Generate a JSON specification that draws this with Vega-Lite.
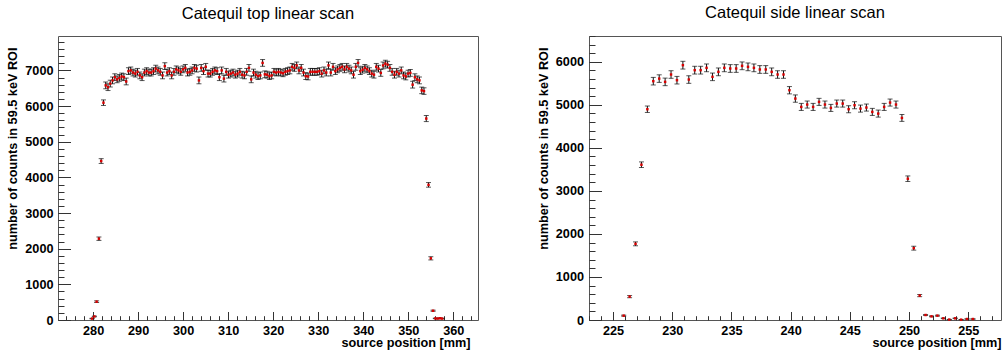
{
"$schema": "https://vega.github.io/schema/vega-lite/v6.json",
"padding": {"left": 6, "top": 4, "right": 2, "bottom": 2},
"background": "white",
"config": {
 "view": {"stroke": "#555", "strokeWidth": 1},
 "font": "Liberation Sans",
 "axis": {"grid": false, "domain": false, "tickColor": "#333", "tickWidth": 1, "labelFont": "Liberation Sans", "labelFontWeight": "bold", "labelFontSize": 12.7, "labelColor": "#000", "titleFont": "Liberation Sans", "titleFontWeight": "bold", "titleFontSize": 12.7, "titleColor": "#000", "labelFlush": false, "labelOverlap": false},
 "title": {"font": "Liberation Sans", "fontSize": 16.5, "fontWeight": "normal", "color": "#000", "offset": 14}
},
"datasets": {
 "top": [
  {"x":279.77,"y":40,"e":7},{"x":280.28,"y":100,"e":10},{"x":280.78,"y":514,"e":23},{"x":281.29,"y":2280,"e":48},{"x":281.79,"y":4458,"e":67},{"x":282.3,"y":6095,"e":78},
  {"x":282.8,"y":6580,"e":95},{"x":283.31,"y":6530,"e":95},{"x":283.81,"y":6630,"e":95},{"x":284.32,"y":6720,"e":95},{"x":284.82,"y":6810,"e":95},{"x":285.33,"y":6750,"e":95},{"x":285.83,"y":6790,"e":95},{"x":286.34,"y":6830,"e":95},{"x":286.84,"y":6810,"e":95},{"x":287.35,"y":6690,"e":95},
  {"x":287.85,"y":6980,"e":95},{"x":288.36,"y":7000,"e":95},{"x":288.86,"y":6940,"e":95},{"x":289.37,"y":6910,"e":95},{"x":289.87,"y":6960,"e":95},{"x":290.38,"y":6860,"e":95},{"x":290.88,"y":6810,"e":95},{"x":291.39,"y":6940,"e":95},{"x":291.89,"y":6980,"e":95},{"x":292.4,"y":6940,"e":95},
  {"x":292.9,"y":6940,"e":95},{"x":293.41,"y":6980,"e":95},{"x":293.91,"y":7050,"e":95},{"x":294.42,"y":7000,"e":95},{"x":294.92,"y":6960,"e":95},{"x":295.43,"y":6860,"e":95},{"x":295.93,"y":7120,"e":95},{"x":296.44,"y":6940,"e":95},{"x":296.94,"y":6980,"e":95},{"x":297.45,"y":6860,"e":95},
  {"x":297.95,"y":6960,"e":95},{"x":298.46,"y":7030,"e":95},{"x":298.96,"y":7000,"e":95},{"x":299.47,"y":6960,"e":95},{"x":299.97,"y":7030,"e":95},{"x":300.48,"y":7070,"e":95},{"x":300.98,"y":6940,"e":95},{"x":301.49,"y":6960,"e":95},{"x":301.99,"y":7000,"e":95},{"x":302.5,"y":7070,"e":95},
  {"x":303.0,"y":7050,"e":95},{"x":303.51,"y":6720,"e":95},{"x":304.01,"y":7070,"e":95},{"x":304.52,"y":6980,"e":95},{"x":305.02,"y":7100,"e":95},{"x":305.53,"y":6910,"e":95},{"x":306.03,"y":6910,"e":95},{"x":306.54,"y":6960,"e":95},{"x":307.04,"y":7000,"e":95},{"x":307.55,"y":6980,"e":95},
  {"x":308.05,"y":6810,"e":95},{"x":308.56,"y":7000,"e":95},{"x":309.06,"y":6770,"e":95},{"x":309.57,"y":6960,"e":95},{"x":310.07,"y":6880,"e":95},{"x":310.58,"y":6910,"e":95},{"x":311.08,"y":6940,"e":95},{"x":311.59,"y":6880,"e":95},{"x":312.09,"y":6910,"e":95},{"x":312.6,"y":6960,"e":95},
  {"x":313.1,"y":6880,"e":95},{"x":313.61,"y":6860,"e":95},{"x":314.11,"y":6960,"e":95},{"x":314.62,"y":7070,"e":95},{"x":315.12,"y":6750,"e":95},{"x":315.63,"y":6940,"e":95},{"x":316.13,"y":6880,"e":95},{"x":316.64,"y":6840,"e":95},{"x":317.14,"y":6860,"e":95},{"x":317.65,"y":7210,"e":95},
  {"x":318.15,"y":6890,"e":95},{"x":318.66,"y":6880,"e":95},{"x":319.16,"y":6840,"e":95},{"x":319.67,"y":6860,"e":95},{"x":320.17,"y":6960,"e":95},{"x":320.68,"y":6940,"e":95},{"x":321.18,"y":6960,"e":95},{"x":321.69,"y":6940,"e":95},{"x":322.19,"y":6920,"e":95},{"x":322.7,"y":6960,"e":95},
  {"x":323.2,"y":6980,"e":95},{"x":323.71,"y":7000,"e":95},{"x":324.21,"y":7100,"e":95},{"x":324.72,"y":7070,"e":95},{"x":325.22,"y":7140,"e":95},{"x":325.73,"y":7000,"e":95},{"x":326.23,"y":7070,"e":95},{"x":326.74,"y":6940,"e":95},{"x":327.24,"y":6840,"e":95},{"x":327.75,"y":6830,"e":95},
  {"x":328.25,"y":6960,"e":95},{"x":328.76,"y":6960,"e":95},{"x":329.26,"y":6960,"e":95},{"x":329.77,"y":6960,"e":95},{"x":330.27,"y":6980,"e":95},{"x":330.78,"y":6910,"e":95},{"x":331.28,"y":7000,"e":95},{"x":331.79,"y":6940,"e":95},{"x":332.29,"y":7140,"e":95},{"x":332.8,"y":6940,"e":95},
  {"x":333.3,"y":7100,"e":95},{"x":333.81,"y":6980,"e":95},{"x":334.31,"y":7030,"e":95},{"x":334.82,"y":7070,"e":95},{"x":335.32,"y":7100,"e":95},{"x":335.83,"y":7030,"e":95},{"x":336.33,"y":7100,"e":95},{"x":336.84,"y":7050,"e":95},{"x":337.34,"y":7000,"e":95},{"x":337.85,"y":6880,"e":95},
  {"x":338.35,"y":7100,"e":95},{"x":338.86,"y":7210,"e":95},{"x":339.36,"y":6980,"e":95},{"x":339.87,"y":7020,"e":95},{"x":340.37,"y":7070,"e":95},{"x":340.88,"y":7030,"e":95},{"x":341.38,"y":6980,"e":95},{"x":341.89,"y":6910,"e":95},{"x":342.39,"y":6880,"e":95},{"x":342.9,"y":7100,"e":95},
  {"x":343.4,"y":7050,"e":95},{"x":343.91,"y":6930,"e":95},{"x":344.41,"y":7140,"e":95},{"x":344.92,"y":7190,"e":95},{"x":345.42,"y":7160,"e":95},{"x":345.93,"y":7070,"e":95},{"x":346.43,"y":6960,"e":95},{"x":346.94,"y":6880,"e":95},{"x":347.44,"y":6960,"e":95},{"x":347.95,"y":6910,"e":95},
  {"x":348.45,"y":7000,"e":95},{"x":348.96,"y":6860,"e":95},{"x":349.46,"y":6830,"e":95},{"x":349.97,"y":6910,"e":95},{"x":350.47,"y":6930,"e":95},{"x":350.98,"y":6600,"e":95},{"x":351.48,"y":6810,"e":95},{"x":351.99,"y":6750,"e":95},{"x":352.49,"y":6720,"e":95},{"x":353.0,"y":6440,"e":92},
  {"x":353.5,"y":6420,"e":92},{"x":354.01,"y":5650,"e":85},{"x":354.51,"y":3790,"e":65},{"x":355.02,"y":1730,"e":45},{"x":355.52,"y":260,"e":16},{"x":356.03,"y":45,"e":7},{"x":356.53,"y":40,"e":7},{"x":357.04,"y":50,"e":7},{"x":357.54,"y":40,"e":7}
 ],
 "side": [
  {"x":225.9,"y":101,"e":12},{"x":226.4,"y":543,"e":25},{"x":226.9,"y":1770,"e":45},{"x":227.4,"y":3609,"e":65},{"x":227.9,"y":4898,"e":75},{"x":228.4,"y":5550,"e":88},{"x":228.9,"y":5610,"e":88},{"x":229.4,"y":5534,"e":88},{"x":229.9,"y":5705,"e":88},{"x":230.4,"y":5573,"e":88},
  {"x":230.9,"y":5922,"e":90},{"x":231.4,"y":5588,"e":88},{"x":231.9,"y":5806,"e":90},{"x":232.4,"y":5806,"e":90},{"x":232.9,"y":5860,"e":90},{"x":233.4,"y":5651,"e":88},{"x":233.9,"y":5767,"e":90},{"x":234.4,"y":5860,"e":90},{"x":234.9,"y":5845,"e":90},{"x":235.4,"y":5845,"e":90},
  {"x":235.9,"y":5907,"e":90},{"x":236.4,"y":5883,"e":90},{"x":236.9,"y":5860,"e":90},{"x":237.4,"y":5822,"e":90},{"x":237.9,"y":5822,"e":90},{"x":238.4,"y":5767,"e":90},{"x":238.9,"y":5705,"e":88},{"x":239.4,"y":5705,"e":88},{"x":239.9,"y":5340,"e":85},{"x":240.4,"y":5146,"e":85},
  {"x":240.9,"y":4952,"e":82},{"x":241.4,"y":5007,"e":82},{"x":241.9,"y":4952,"e":82},{"x":242.4,"y":5069,"e":82},{"x":242.9,"y":5007,"e":82},{"x":243.4,"y":4929,"e":82},{"x":243.9,"y":5030,"e":82},{"x":244.4,"y":5030,"e":82},{"x":244.9,"y":4898,"e":82},{"x":245.4,"y":4991,"e":82},
  {"x":245.9,"y":4913,"e":82},{"x":246.4,"y":4937,"e":82},{"x":246.9,"y":4836,"e":82},{"x":247.4,"y":4797,"e":82},{"x":247.9,"y":4952,"e":82},{"x":248.4,"y":5053,"e":82},{"x":248.9,"y":5007,"e":82},{"x":249.4,"y":4696,"e":80},{"x":249.9,"y":3283,"e":65},{"x":250.4,"y":1669,"e":45},
  {"x":250.9,"y":567,"e":25},{"x":251.4,"y":116,"e":12},{"x":251.9,"y":85,"e":10},{"x":252.4,"y":101,"e":11},{"x":252.9,"y":39,"e":7},{"x":253.4,"y":10,"e":4},{"x":253.9,"y":39,"e":7},{"x":254.4,"y":8,"e":4},{"x":254.9,"y":23,"e":5},{"x":255.4,"y":23,"e":5}
 ]
},
"spacing": 57,
"hconcat": [
 {
  "title": "Catequil top linear scan",
  "width": 420, "height": 284,
  "data": {"name": "top"},
  "layer": [
   {"mark": {"type": "errorbar", "ticks": {"size": 5, "color": "#111"}, "rule": {"color": "#111", "strokeWidth": 1}},
    "encoding": {
     "x": {"field": "x", "type": "quantitative", "scale": {"domain": [272.2, 365.5], "nice": false, "zero": false},
           "axis": {"orient": "bottom", "values": [280,290,300,310,320,330,340,350,360], "format": "d", "tickSize": -8.5, "labelPadding": 12.5, "title": "source position [mm]", "titleAnchor": "end", "titleX": 412, "titleAlign": "right", "titlePadding": 0}},
     "y": {"field": "y", "type": "quantitative", "scale": {"domain": [0, 7965], "nice": false, "zero": true},
           "axis": {"orient": "left", "values": [0,1000,2000,3000,4000,5000,6000,7000], "format": "d", "tickSize": -12.5, "labelPadding": 17.5, "title": "number of counts in 59.5 keV ROI", "titleAnchor": "end", "titleAlign": "right", "titleY": 11, "titlePadding": 5}},
     "yError": {"field": "e"}
    }},
   {"mark": {"type": "square", "size": 6, "color": "#d80000", "opacity": 1},
    "encoding": {
     "x": {"field": "x", "type": "quantitative", "scale": {"domain": [272.2, 365.5], "nice": false, "zero": false},
           "axis": {"orient": "bottom", "values": [274,276,278,280,282,284,286,288,290,292,294,296,298,300,302,304,306,308,310,312,314,316,318,320,322,324,326,328,330,332,334,336,338,340,342,344,346,348,350,352,354,356,358,360,362,364], "tickSize": -4.3, "labels": false, "title": null}},
     "y": {"field": "y", "type": "quantitative", "scale": {"domain": [0, 7965], "nice": false, "zero": true},
           "axis": {"orient": "left", "values": [0,200,400,600,800,1000,1200,1400,1600,1800,2000,2200,2400,2600,2800,3000,3200,3400,3600,3800,4000,4200,4400,4600,4800,5000,5200,5400,5600,5800,6000,6200,6400,6600,6800,7000,7200,7400,7600,7800], "tickSize": -6, "labels": false, "title": null}}
    }}
  ],
  "resolve": {"axis": {"x": "independent", "y": "independent"}}
 },
 {
  "title": "Catequil side linear scan",
  "width": 412, "height": 284,
  "data": {"name": "side"},
  "layer": [
   {"mark": {"type": "errorbar", "ticks": {"size": 5, "color": "#111"}, "rule": {"color": "#111", "strokeWidth": 1}},
    "encoding": {
     "x": {"field": "x", "type": "quantitative", "scale": {"domain": [222.97, 257.77], "nice": false, "zero": false},
           "axis": {"orient": "bottom", "values": [225,230,235,240,245,250,255], "format": "d", "tickSize": -8.5, "labelPadding": 12.5, "title": "source position [mm]", "titleAnchor": "end", "titlePadding": 0}},
     "y": {"field": "y", "type": "quantitative", "scale": {"domain": [0, 6600], "nice": false, "zero": true},
           "axis": {"orient": "left", "values": [0,1000,2000,3000,4000,5000,6000], "format": "d", "tickSize": -12.5, "labelPadding": 18, "title": "number of counts in 59.5 keV ROI", "titleAnchor": "end", "titleAlign": "right", "titleY": 11, "titlePadding": 5}},
     "yError": {"field": "e"}
    }},
   {"mark": {"type": "square", "size": 6, "color": "#d80000", "opacity": 1},
    "encoding": {
     "x": {"field": "x", "type": "quantitative", "scale": {"domain": [222.97, 257.77], "nice": false, "zero": false},
           "axis": {"orient": "bottom", "values": [223,224,225,226,227,228,229,230,231,232,233,234,235,236,237,238,239,240,241,242,243,244,245,246,247,248,249,250,251,252,253,254,255,256,257], "tickSize": -4.3, "labels": false, "title": null}},
     "y": {"field": "y", "type": "quantitative", "scale": {"domain": [0, 6600], "nice": false, "zero": true},
           "axis": {"orient": "left", "values": [0,200,400,600,800,1000,1200,1400,1600,1800,2000,2200,2400,2600,2800,3000,3200,3400,3600,3800,4000,4200,4400,4600,4800,5000,5200,5400,5600,5800,6000,6200,6400,6600], "tickSize": -6, "labels": false, "title": null}}
    }}
  ],
  "resolve": {"axis": {"x": "independent", "y": "independent"}}
 }
]
}
